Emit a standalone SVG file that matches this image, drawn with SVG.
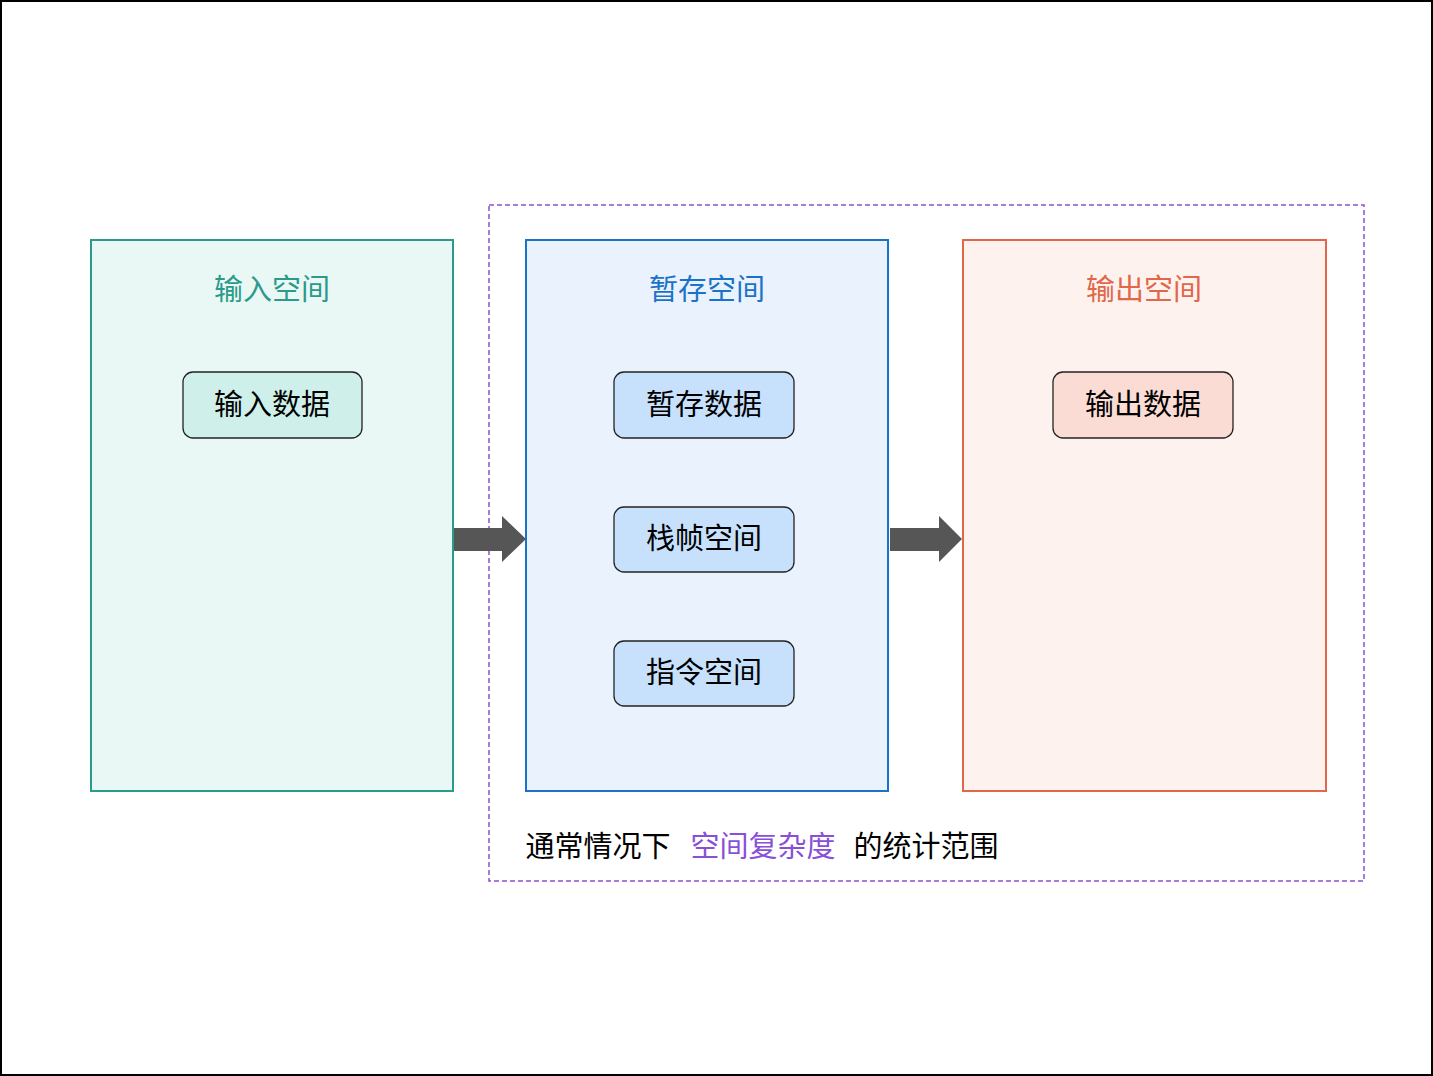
<svg xmlns="http://www.w3.org/2000/svg" width="1433" height="1076" viewBox="0 0 1433 1076">
<style>
text{font-family:"Noto Sans CJK SC","Noto Sans",sans-serif;text-anchor:middle;dominant-baseline:central;font-size:29px}
.n{fill:#000}
.item{stroke:#222;stroke-width:1.3}
.arrow{fill:#565656}
</style>
<rect x="1" y="1" width="1431" height="1074" fill="#fff" stroke="#000" stroke-width="2"/>
<g id="scope">
<rect x="489" y="205" width="875" height="676" fill="none" stroke="#8a4fd8" stroke-width="1.5" stroke-dasharray="5,3"/>
<text x="598" y="844" class="n">通常情况下</text>
<text x="763" y="844" fill="#8a4fd8">空间复杂度</text>
<text x="926" y="844" class="n">的统计范围</text>
</g>
<g id="input-space">
<rect x="91" y="240" width="362" height="551" fill="#e9f7f5" stroke="#2a9a8a" stroke-width="2"/>
<text x="272" y="287" fill="#2a9a8a">输入空间</text>
</g>
<g id="input-data">
<rect x="183" y="372" width="179" height="66" rx="10" fill="#cff0ea" class="item"/>
<text x="272" y="402" class="n">输入数据</text>
</g>
<g id="temp-space">
<rect x="526" y="240" width="362" height="551" fill="#eaf2fe" stroke="#1a73c9" stroke-width="2"/>
<text x="707" y="287" fill="#1a73c9">暂存空间</text>
</g>
<g id="temp-data">
<rect x="614" y="372" width="180" height="66" rx="10" fill="#c7e1fd" class="item"/>
<text x="704" y="402" class="n">暂存数据</text>
</g>
<g id="stack-frame">
<rect x="614" y="507" width="180" height="65" rx="10" fill="#c7e1fd" class="item"/>
<text x="704" y="536" class="n">栈帧空间</text>
</g>
<g id="instruction">
<rect x="614" y="641" width="180" height="65" rx="10" fill="#c7e1fd" class="item"/>
<text x="704" y="670" class="n">指令空间</text>
</g>
<g id="output-space">
<rect x="963" y="240" width="363" height="551" fill="#fdf2ee" stroke="#e0674a" stroke-width="2"/>
<text x="1144" y="287" fill="#e0674a">输出空间</text>
</g>
<g id="output-data">
<rect x="1053" y="372" width="180" height="66" rx="10" fill="#fbdcd4" class="item"/>
<text x="1143" y="402" class="n">输出数据</text>
</g>
<g id="connectors">
<polygon class="arrow" points="454,528 502,528 502,516 526,539 502,562 502,551 454,551"/>
<polygon class="arrow" points="890,528 939,528 939,516 962,539 939,562 939,551 890,551"/>
</g>
</svg>
